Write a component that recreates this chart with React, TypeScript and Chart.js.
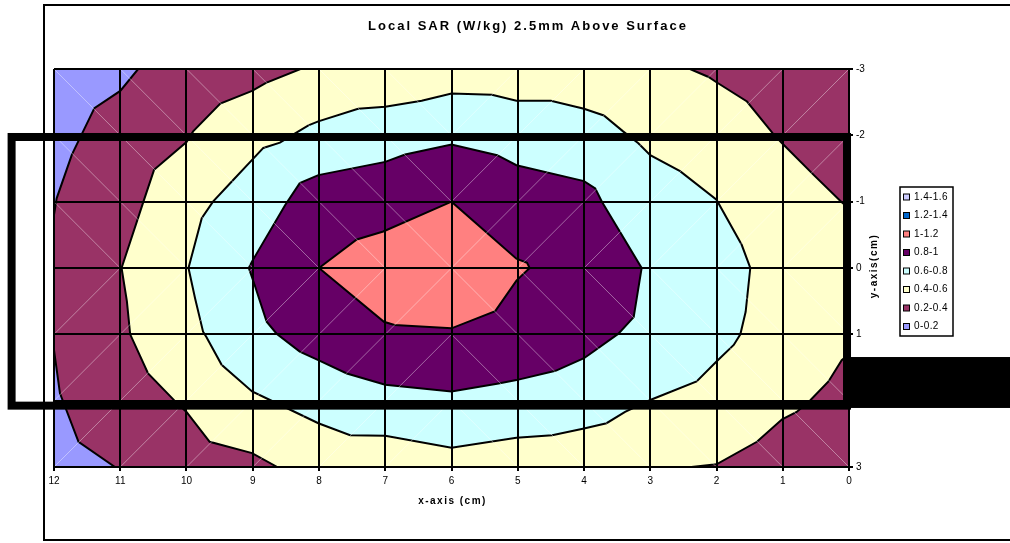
import React, { useEffect, useRef } from 'react';
import { Chart, registerables } from 'chart.js';

Chart.register(...registerables);

const FONT = "'Liberation Sans', Arial, Helvetica, sans-serif";

// ---- chart texts ----
const chartTitle = 'Local SAR (W/kg) 2.5mm Above Surface';
const xTitle = 'x-axis (cm)';
const yTitle = 'y-axis(cm)';

// ---- legend bands (top to bottom as in the legend) ----
const bandLabels = ['1.4-1.6', '1.2-1.4', '1-1.2', '0.8-1', '0.6-0.8', '0.4-0.6', '0.2-0.4', '0-0.2'];
const bandColors = ['#CCCCFF', '#0066CC', '#FF8080', '#660066', '#CCFFFF', '#FFFFCC', '#993366', '#9999FF'];

// ---- tick labels ----
const xTickValues = [0, 1, 2, 3, 4, 5, 6, 7, 8, 9, 10, 11, 12];
const yTickValues = [-3, -2, -1, 0, 1, 2, 3];

// ---- contour regions: area where SAR >= lower bound of the band, [x cm, y cm] ----
const region14: number[][] = [];
const region12: number[][] = [];
const region10: number[][] = [
  [8.0, 0], [7.43, -0.43], [7.03, -0.55], [6.0, -1.0], [5.02, -0.14], [4.86, -0.08], [4.82, 0],
  [5.02, 0.19], [5.34, 0.65], [6.0, 0.91], [6.86, 0.86], [7.02, 0.81],
];
const region08: number[][] = [
  [9.06, 0], [9.01, -0.1], [8.51, -0.95], [8.29, -1.28], [8.01, -1.4], [7.0, -1.6], [6.7, -1.71],
  [6.0, -1.86], [5.31, -1.7], [5.02, -1.55], [4.0, -1.31], [3.83, -1.2], [3.73, -1.0], [3.13, 0],
  [3.25, 0.74], [3.48, 0.99], [3.83, 1.24], [4.0, 1.36], [4.43, 1.55], [5.02, 1.69], [5.29, 1.74],
  [6.0, 1.86], [7.0, 1.76], [7.58, 1.59], [8.01, 1.39], [8.29, 1.26], [8.64, 0.99], [8.79, 0.81],
  [8.97, 0.26],
];
const region06: number[][] = [
  [9.97, 0], [9.77, -0.75], [9.6, -1.0], [9.32, -1.3], [9.01, -1.63], [8.84, -1.81], [8.59, -1.89],
  [8.31, -2.06], [8.16, -2.15], [8.01, -2.21], [7.41, -2.4], [7.0, -2.43], [6.45, -2.52], [6.0, -2.63],
  [5.39, -2.61], [5.02, -2.52], [4.5, -2.52], [4.0, -2.4], [3.7, -2.3], [3.41, -2.06], [3.18, -1.88],
  [3.0, -1.7], [2.55, -1.46], [2.0, -1.03], [1.62, -0.35], [1.49, 0], [1.56, 0.66], [1.64, 1.0],
  [1.74, 1.16], [2.0, 1.41], [2.3, 1.71], [3.0, 1.99], [3.38, 2.17], [3.66, 2.34], [4.0, 2.42],
  [4.48, 2.52], [5.02, 2.56], [6.0, 2.71], [7.0, 2.53], [7.53, 2.52], [8.01, 2.34], [8.74, 1.99],
  [9.01, 1.86], [9.47, 1.46], [9.7, 1.04], [9.75, 0.96], [9.87, 0.46],
];
const region04: number[][] = [
  [8.28, -3], [2.4, -3], [2.12, -2.88], [2.0, -2.8], [1.54, -2.51], [1.15, -2.03], [1.01, -1.88],
  [0.53, -1.4], [0.11, -0.99], [0, -0.9], [0, 1.3], [0.11, 1.39], [0.31, 1.71], [0.58, 1.99],
  [0.79, 2.17], [1.01, 2.28], [1.39, 2.62], [2.0, 2.96], [2.38, 3], [8.63, 3], [9.01, 2.79],
  [9.65, 2.62], [10.0, 2.17], [10.17, 2.01], [10.58, 1.59], [10.85, 1.0], [10.9, 0.5], [10.98, 0],
  [10.65, -1.0], [10.49, -1.48], [10.0, -1.9], [9.9, -2.06], [9.49, -2.48], [9.01, -2.67], [8.8, -2.79],
];
const region02: number[][] = [
  [10.73, -3], [0, -3], [0, 3], [11.08, 3], [11.63, 2.62], [11.91, 1.89], [12, 1.24], [12, -0.8],
  [11.96, -1.05], [11.73, -1.71], [11.39, -2.41], [11.0, -2.67],
];
const region00: number[][] = [[12, -3], [0, -3], [0, 3], [12, 3]];

const bandRegions = [region14, region12, region10, region08, region06, region04, region02, region00];

// centre of the measured grid (triangulation of each grid cell points towards it)
const gridCentre = [6, 0];

// ---- device outline drawn over the map (cm) ----
const outlineX = [12.64, 0.03];
const outlineY = [-1.975, 2.075];
const connectorX = [0.03, -2.7];
const connectorY = [1.342, 2.11];

const decorPlugin = {
  id: 'decor',
  beforeDraw(chart: any) {
    const { ctx, width, height } = chart;
    ctx.save();
    ctx.fillStyle = '#ffffff';
    ctx.fillRect(0, 0, width, height);
    ctx.strokeStyle = '#000';
    ctx.lineWidth = 2;
    ctx.strokeRect(44, 5, 1000, 535);
    ctx.restore();
  },
  afterDatasetsDraw(chart: any) {
    // faint triangulation diagonals inside each grid cell
    const { ctx, chartArea } = chart;
    const xs = chart.scales.x;
    const ys = chart.scales.y;
    ctx.save();
    ctx.beginPath();
    ctx.rect(chartArea.left, chartArea.top, chartArea.right - chartArea.left, chartArea.bottom - chartArea.top);
    ctx.clip();
    ctx.strokeStyle = 'rgba(255,255,255,0.4)';
    ctx.lineWidth = 1;
    for (let i = 0; i < xTickValues.length - 1; i++) {
      for (let j = 0; j < yTickValues.length - 1; j++) {
        const x0 = xTickValues[i];
        const x1 = xTickValues[i + 1];
        const y0 = yTickValues[j];
        const y1 = yTickValues[j + 1];
        const s = ((x0 + x1) / 2 - gridCentre[0]) * ((y0 + y1) / 2 - gridCentre[1]);
        ctx.beginPath();
        if (s < 0) {
          ctx.moveTo(xs.getPixelForValue(x1), ys.getPixelForValue(y0));
          ctx.lineTo(xs.getPixelForValue(x0), ys.getPixelForValue(y1));
        } else {
          ctx.moveTo(xs.getPixelForValue(x1), ys.getPixelForValue(y1));
          ctx.lineTo(xs.getPixelForValue(x0), ys.getPixelForValue(y0));
        }
        ctx.stroke();
      }
    }
    ctx.restore();
  },
  afterDraw(chart: any) {
    const { ctx, chartArea } = chart;
    const xs = chart.scales.x;
    const ys = chart.scales.y;
    ctx.save();
    // device outline
    ctx.strokeStyle = '#000';
    ctx.lineWidth = 8;
    const l = xs.getPixelForValue(outlineX[0]);
    const r = xs.getPixelForValue(outlineX[1]);
    const t = ys.getPixelForValue(outlineY[0]);
    const b = ys.getPixelForValue(outlineY[1]);
    ctx.strokeRect(l, t, r - l, b - t);
    ctx.fillStyle = '#000';
    const cl = xs.getPixelForValue(connectorX[0]);
    const cr = xs.getPixelForValue(connectorX[1]);
    const ct = ys.getPixelForValue(connectorY[0]);
    const cb = ys.getPixelForValue(connectorY[1]);
    ctx.fillRect(cl, ct, cr - cl, cb - ct);

    // title
    ctx.fillStyle = '#000';
    ctx.textAlign = 'center';
    ctx.textBaseline = 'middle';
    ctx.font = `bold 13px ${FONT}`;
    (ctx as any).letterSpacing = '2px';
    ctx.fillText(chartTitle, 528, 26);

    // axis titles
    ctx.font = `bold 10px ${FONT}`;
    (ctx as any).letterSpacing = '1.5px';
    ctx.fillText(xTitle, (chartArea.left + chartArea.right) / 2 + 1, 501);
    ctx.save();
    ctx.translate(chartArea.right + 25, (chartArea.top + chartArea.bottom) / 2 - 2);
    ctx.rotate(-Math.PI / 2);
    ctx.fillText(yTitle, 0, 0);
    ctx.restore();

    // legend
    const lx = chartArea.right + 51;
    const ly = 187;
    const lw = 53;
    const lh = 149;
    ctx.lineWidth = 1.5;
    ctx.strokeStyle = '#000';
    ctx.fillStyle = '#fff';
    ctx.fillRect(lx, ly, lw, lh);
    ctx.strokeRect(lx, ly, lw, lh);
    ctx.font = `10px ${FONT}`;
    (ctx as any).letterSpacing = '0.4px';
    ctx.textAlign = 'left';
    bandLabels.forEach((lab, i) => {
      const cy = 197 + i * 18.5;
      ctx.fillStyle = bandColors[i];
      ctx.fillRect(lx + 3.5, cy - 3, 6, 6);
      ctx.lineWidth = 1;
      ctx.strokeStyle = '#000';
      ctx.strokeRect(lx + 3.5, cy - 3, 6, 6);
      ctx.fillStyle = '#000';
      ctx.fillText(lab, lx + 14, cy);
    });
    ctx.restore();
  },
};

export default function App() {
  const ref = useRef<HTMLCanvasElement>(null);
  useEffect(() => {
    const datasets = bandRegions
      .map((pts, i) => ({
        type: 'line' as const,
        label: bandLabels[i],
        data: pts.length ? [...pts, pts[0]].map(([x, y]) => ({ x, y })) : [],
        borderColor: '#000',
        borderWidth: 2,
        backgroundColor: bandColors[i],
        fill: 'shape',
        pointRadius: 0,
        tension: 0,
      }));
    const chart = new Chart(ref.current as HTMLCanvasElement, {
      type: 'line',
      data: { datasets: datasets as any },
      options: {
        animation: false,
        responsive: false,
        events: [],
        layout: { padding: { left: 54, top: 69, right: 0, bottom: 0 } },
        plugins: {
          legend: { display: false },
          title: { display: false },
          tooltip: { enabled: false },
        },
        scales: {
          x: {
            type: 'linear',
            min: 0,
            max: 12,
            reverse: true,
            position: 'bottom',
            afterFit: (s: any) => { s.height = 76; },
            afterBuildTicks: (s: any) => { s.ticks = xTickValues.map((v) => ({ value: v })); },
            ticks: { font: { family: FONT, size: 10 }, color: '#000', padding: 4, maxRotation: 0, autoSkip: false },
            grid: { color: '#000', lineWidth: 2, z: 1, tickLength: 4, drawTicks: true },
            border: { color: '#000', width: 2, z: 1 },
          },
          y: {
            type: 'linear',
            min: -3,
            max: 3,
            reverse: true,
            position: 'right',
            afterFit: (s: any) => { s.width = 161; },
            afterBuildTicks: (s: any) => { s.ticks = yTickValues.map((v) => ({ value: v })); },
            ticks: { font: { family: FONT, size: 10 }, color: '#000', padding: 3, autoSkip: false },
            grid: { color: '#000', lineWidth: 2, z: 1, tickLength: 4, drawTicks: true },
            border: { color: '#000', width: 2, z: 1 },
          },
        },
      },
      plugins: [decorPlugin],
    } as any);
    return () => chart.destroy();
  }, []);
  return (
    <div style={{ position: 'fixed', left: 0, top: 0, width: 1010, height: 543 }}>
      <canvas ref={ref} width={1010} height={543} style={{ display: 'block', width: 1010, height: 543 }} />
    </div>
  );
}
